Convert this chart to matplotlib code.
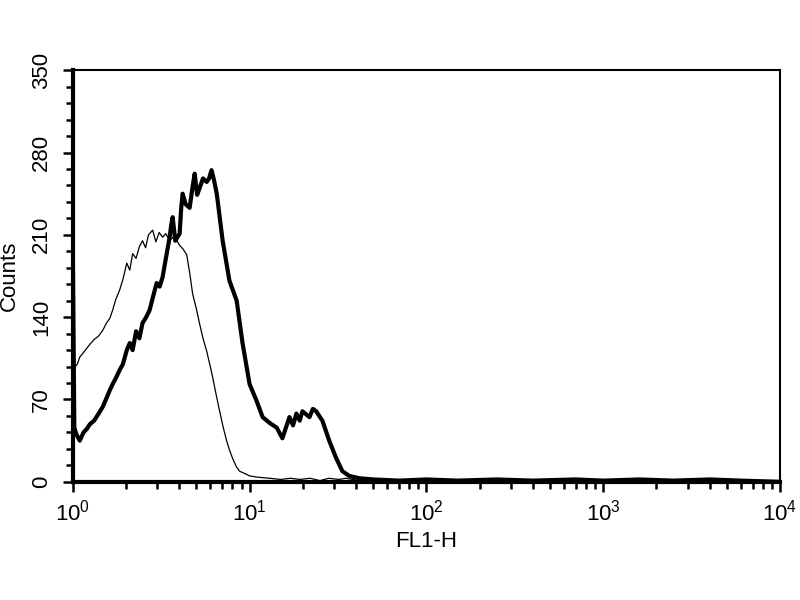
import matplotlib.pyplot as plt
import matplotlib.ticker as ticker

plt.rcParams['font.family'] = ['Liberation Sans', 'DejaVu Sans']

# ----- control histogram (thin line) -----
ctrl_x = [1.0, 1.0, 1.02, 1.06, 1.095, 1.15, 1.25, 1.32, 1.40, 1.48, 1.55, 1.62, 1.68,
          1.75, 1.84, 1.92, 2.02, 2.10, 2.18, 2.28, 2.38, 2.48, 2.58, 2.68, 2.83,
          2.95, 3.08, 3.22, 3.36, 3.53, 3.75, 4.02, 4.20, 4.41, 4.58, 4.76, 5.0,
          5.22, 5.45, 5.72, 5.95, 6.18, 6.45, 6.77, 7.1, 7.41, 7.7, 8.01, 8.4,
          8.78, 9.4, 10.0, 11.0, 12.97, 15.0, 17.0, 19.2, 22.0, 25.0, 28.0, 32.0,
          35.0, 38.2, 42.0, 50.0]
ctrl_y = [0, 200, 97, 100, 106, 110, 117, 121, 124, 129, 135, 139, 146,
          155, 163, 172, 186, 180, 194, 190, 200, 205, 199, 210, 214,
          204, 212, 208, 211, 205, 209, 201, 198, 193, 178, 160, 147,
          134, 122, 111, 100, 89, 75, 60, 46, 35, 27, 20, 13,
          9, 7, 5, 4, 3, 2, 3, 2, 3, 1, 3, 2,
          3, 2, 1, 0]

# ----- stained histogram (thick line) -----
stain_x = [1.0, 1.0, 1.02, 1.05, 1.095, 1.15, 1.20, 1.25, 1.32, 1.40, 1.48, 1.56,
           1.62, 1.68, 1.75, 1.84, 1.92, 2.02, 2.10, 2.18, 2.28, 2.38, 2.48, 2.60,
           2.72, 2.85, 2.98, 3.10, 3.22, 3.36, 3.53, 3.60, 3.67, 3.80, 4.02, 4.10,
           4.18, 4.35, 4.58, 4.75, 4.89, 5.05, 5.22, 5.45, 5.72, 5.90, 6.09, 6.30,
           6.52, 7.04, 7.69, 8.45, 9.12, 10.0, 10.94, 11.85, 13.0, 14.24, 15.33,
           16.8, 17.6, 18.4, 19.2, 19.9, 21.8, 22.8, 23.8, 25.8, 28.2, 30.9, 33.5,
           36.6, 41.8, 50.0, 70.0, 100.0, 150.0, 250.0, 400.0, 700.0, 1000.0,
           1600.0, 2500.0, 4000.0, 6000.0, 10000.0]
stain_y = [0, 200, 46, 40, 35, 42, 45, 49, 52, 58, 64, 72,
           78, 83, 88, 95, 100, 112, 118, 112, 128, 122, 135, 140,
           146, 158, 169, 166, 174, 190, 208, 218, 225, 205, 211, 232,
           245, 236, 233, 250, 262, 244, 250, 258, 255, 258, 265, 256,
           245, 205, 171, 154, 118, 83, 69, 55, 50, 46, 37,
           55, 48, 58, 52, 60, 55, 62, 60, 52, 35, 20, 9,
           5, 3, 2, 1, 2, 1, 2, 1, 2, 1,
           2, 1, 2, 1, 0]

fig = plt.figure(figsize=(8, 6), dpi=100)
ax = fig.add_axes([0.091, 0.197, 0.884, 0.686])

ax.plot(ctrl_x, ctrl_y, color='black', linewidth=0.9)
ax.plot(stain_x, stain_y, color='black', linewidth=3.0)

ax.set_xscale('log')
ax.set_xlim(1, 1e4)
ax.set_ylim(0, 350)

ax.yaxis.set_major_locator(ticker.MultipleLocator(70))
ax.yaxis.set_minor_locator(ticker.MultipleLocator(14))
ax.xaxis.set_minor_locator(ticker.LogLocator(base=10, subs=range(2, 10)))

ax.tick_params(axis='both', which='major', direction='out', length=7, width=1.8,
               labelsize=16, colors='black')
ax.tick_params(axis='x', which='major', pad=6)
ax.tick_params(axis='y', which='major', pad=8)
ax.tick_params(axis='both', which='minor', direction='out', length=5, width=1.8)
for lbl in ax.get_yticklabels():
    lbl.set_rotation(90)
    lbl.set_verticalalignment('center')

for side in ['left', 'bottom']:
    ax.spines[side].set_linewidth(3.0)
for side in ['top', 'right']:
    ax.spines[side].set_linewidth(1.5)

ax.set_ylabel('Counts', fontsize=16, labelpad=8)
ax.set_xlabel('FL1-H', fontsize=16, labelpad=4)

fig.savefig('out.png', dpi=100)
